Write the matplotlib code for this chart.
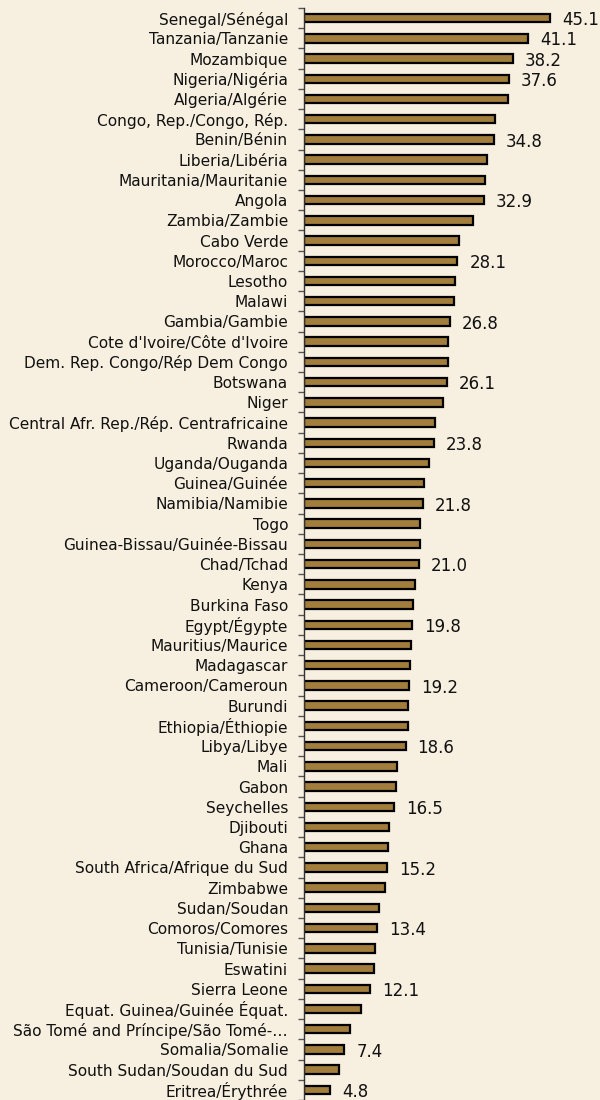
import numpy as np
import matplotlib
matplotlib.use("Agg")
import matplotlib.pyplot as plt

countries = [
    "Senegal/Sénégal", "Tanzania/Tanzanie", "Mozambique", "Nigeria/Nigéria",
    "Algeria/Algérie", "Congo, Rep./Congo, Rép.", "Benin/Bénin", "Liberia/Libéria",
    "Mauritania/Mauritanie", "Angola", "Zambia/Zambie", "Cabo Verde",
    "Morocco/Maroc", "Lesotho", "Malawi", "Gambia/Gambie",
    "Cote d'Ivoire/Côte d'Ivoire", "Dem. Rep. Congo/Rép Dem Congo", "Botswana", "Niger",
    "Central Afr. Rep./Rép. Centrafricaine", "Rwanda", "Uganda/Ouganda", "Guinea/Guinée",
    "Namibia/Namibie", "Togo", "Guinea-Bissau/Guinée-Bissau", "Chad/Tchad",
    "Kenya", "Burkina Faso", "Egypt/Égypte", "Mauritius/Maurice",
    "Madagascar", "Cameroon/Cameroun", "Burundi", "Ethiopia/Éthiopie",
    "Libya/Libye", "Mali", "Gabon", "Seychelles",
    "Djibouti", "Ghana", "South Africa/Afrique du Sud", "Zimbabwe",
    "Sudan/Soudan", "Comoros/Comores", "Tunisia/Tunisie", "Eswatini",
    "Sierra Leone", "Equat. Guinea/Guinée Équat.", "São Tomé and Príncipe/São Tomé-…",
    "Somalia/Somalie", "South Sudan/Soudan du Sud", "Eritrea/Érythrée",
]
values = [
    45.1, 41.1, 38.2, 37.6, 37.3, 35.0, 34.8, 33.6,
    33.2, 32.9, 31.0, 28.3, 28.1, 27.7, 27.5, 26.8,
    26.4, 26.3, 26.1, 25.5, 24.0, 23.8, 22.9, 22.0,
    21.8, 21.3, 21.2, 21.0, 20.4, 19.9, 19.8, 19.6,
    19.4, 19.2, 19.1, 19.0, 18.6, 17.1, 16.8, 16.5,
    15.6, 15.4, 15.2, 14.9, 13.8, 13.4, 13.0, 12.8,
    12.1, 10.4, 8.5, 7.4, 6.5, 4.8,
]
# which bars carry a value label
labelled = [
    "Senegal/Sénégal", "Tanzania/Tanzanie", "Mozambique", "Nigeria/Nigéria",
    "Benin/Bénin", "Angola", "Morocco/Maroc", "Gambia/Gambie", "Botswana",
    "Rwanda", "Namibia/Namibie", "Chad/Tchad", "Egypt/Égypte",
    "Cameroon/Cameroun", "Libya/Libye", "Seychelles", "South Africa/Afrique du Sud",
    "Comoros/Comores", "Sierra Leone", "Somalia/Somalie", "Eritrea/Érythrée",
]

BG = "#f7efdf"
BAR = "#a27d3c"

plt.rcParams["font.family"] = ["DejaVu Sans"]

fig = plt.figure(figsize=(6, 11), dpi=100, facecolor=BG)
ax = fig.add_axes([304 / 600, 0 / 1100, 296 / 600, 1092 / 1100])
ax.set_facecolor(BG)

y = np.arange(len(countries))
ax.barh(y, values, height=0.42, color=BAR, edgecolor="black", linewidth=1.6)

for yi, name, v in zip(y, countries, values):
    if name in labelled:
        ax.annotate("%.1f" % v, (v, yi), xytext=(8.5, -1.5), textcoords="offset points",
                    ha="left", va="center", fontsize=12, color="#111111")

ax.set_xlim(0, 54.2)
ax.set_ylim(len(countries) - 0.5, -0.5)
ax.set_yticks(y)
ax.set_yticklabels(countries, fontsize=11.1, color="#111111")
ax.set_yticks(np.arange(len(countries) + 1) - 0.5, minor=True)
ax.tick_params(axis="y", which="major", length=0, pad=11.5)
ax.tick_params(axis="y", which="minor", length=4, width=1, color="#555555", direction="out")
ax.set_xticks([])
for s in ("top", "right", "bottom"):
    ax.spines[s].set_visible(False)
ax.spines["left"].set_color("#333333")
ax.spines["left"].set_linewidth(1.0)

fig.savefig("out.png", dpi=100, facecolor=BG)
